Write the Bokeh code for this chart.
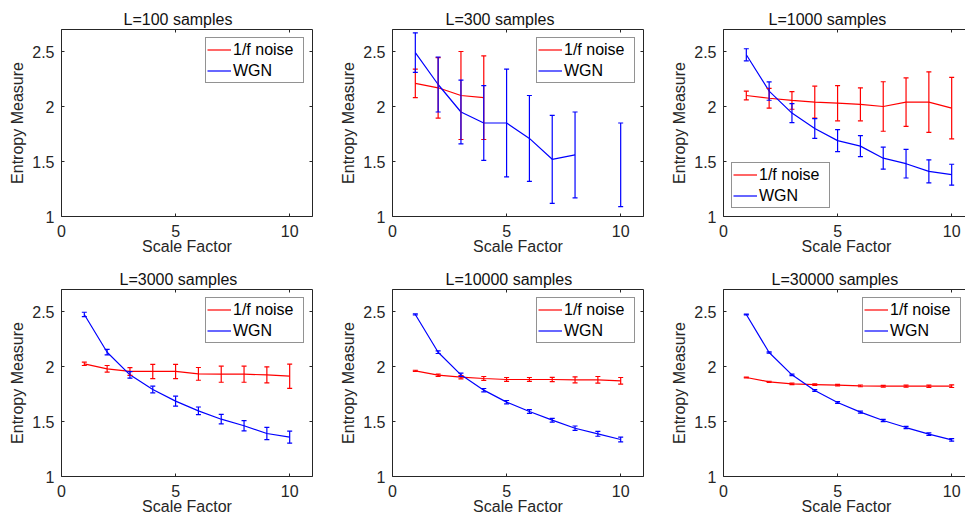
import math
from bokeh.plotting import figure
from bokeh.models import (ColumnDataSource, Whisker, TeeHead, Legend, LegendItem,
                          LinearAxis, FixedTicker, NumeralTickFormatter,
                          CustomJSTickFormatter, Range1d, Title)
from bokeh.layouts import column, row
from bokeh.embed import file_html
from bokeh.resources import INLINE

nan = float("nan")

# ---------------- data ----------------
scale_factor = [1, 2, 3, 4, 5, 6, 7, 8, 9, 10]
sample_lengths = ["100", "300", "1000", "3000", "10000", "30000"]
series_names = ["1/f noise", "WGN"]
x_ticks = [0, 5, 10]
y_ticks = [1, 1.5, 2, 2.5]

onef_mean_100 = [nan] * 10
onef_err_100 = [nan] * 10
wgn_mean_100 = [nan] * 10
wgn_err_100 = [nan] * 10

onef_mean_300 = [2.21, 2.17, 2.10, 2.08, nan, nan, nan, nan, nan, nan]
onef_err_300 = [0.13, 0.275, 0.40, 0.38, nan, nan, nan, nan, nan, nan]
wgn_mean_300 = [2.49, 2.20, 1.95, 1.85, 1.85, 1.71, 1.52, 1.56, nan, 1.47]
wgn_err_300 = [0.18, 0.25, 0.29, 0.34, 0.49, 0.39, 0.40, 0.39, nan, 0.38]

onef_mean_1000 = [2.10, 2.075, 2.055, 2.04, 2.03, 2.02, 2.00, 2.04, 2.04, 1.985]
onef_err_1000 = [0.04, 0.09, 0.08, 0.145, 0.16, 0.15, 0.225, 0.22, 0.275, 0.28]
wgn_mean_1000 = [2.47, 2.14, 1.94, 1.80, 1.69, 1.64, 1.53, 1.48, 1.41, 1.38]
wgn_err_1000 = [0.055, 0.083, 0.086, 0.09, 0.10, 0.095, 0.10, 0.13, 0.105, 0.095]

onef_mean_3000 = [2.024, 1.979, 1.955, 1.955, 1.955, 1.933, 1.93, 1.93, 1.924, 1.912]
onef_err_3000 = [0.015, 0.03, 0.035, 0.065, 0.065, 0.058, 0.073, 0.073, 0.073, 0.11]
wgn_mean_3000 = [2.473, 2.13, 1.924, 1.791, 1.685, 1.597, 1.521, 1.461, 1.391, 1.358]
wgn_err_3000 = [0.02, 0.025, 0.03, 0.03, 0.045, 0.035, 0.043, 0.047, 0.055, 0.055]

onef_mean_10000 = [1.961, 1.921, 1.903, 1.891, 1.882, 1.882, 1.882, 1.879, 1.879, 1.87]
onef_err_10000 = [0.005, 0.01, 0.015, 0.018, 0.018, 0.018, 0.02, 0.027, 0.03, 0.03]
wgn_mean_10000 = [2.473, 2.13, 1.924, 1.785, 1.676, 1.591, 1.512, 1.439, 1.388, 1.336]
wgn_err_10000 = [0.005, 0.012, 0.015, 0.015, 0.015, 0.017, 0.017, 0.02, 0.022, 0.022]

onef_mean_30000 = [1.90, 1.861, 1.842, 1.836, 1.83, 1.824, 1.821, 1.821, 1.821, 1.821]
onef_err_30000 = [0.004, 0.005, 0.006, 0.007, 0.007, 0.008, 0.008, 0.009, 0.01, 0.012]
wgn_mean_30000 = [2.473, 2.127, 1.924, 1.782, 1.673, 1.585, 1.509, 1.445, 1.385, 1.333]
wgn_err_30000 = [0.004, 0.006, 0.007, 0.008, 0.008, 0.009, 0.01, 0.01, 0.011, 0.012]

panels_data = [
    (onef_mean_100, onef_err_100, wgn_mean_100, wgn_err_100),
    (onef_mean_300, onef_err_300, wgn_mean_300, wgn_err_300),
    (onef_mean_1000, onef_err_1000, wgn_mean_1000, wgn_err_1000),
    (onef_mean_3000, onef_err_3000, wgn_mean_3000, wgn_err_3000),
    (onef_mean_10000, onef_err_10000, wgn_mean_10000, wgn_err_10000),
    (onef_mean_30000, onef_err_30000, wgn_mean_30000, wgn_err_30000),
]

# ---------------- style / layout ----------------
FONT = "Liberation Sans"
FS = "16px"
AX = "#262626"
RED = "#ff0000"
BLUE = "#0000ff"
FW, FH = 251, 187
FW_LAST = 246
title_x = [62, 53, 45, 58, 53, 48]
legend_loc = ["top_right", "top_right", "bottom_left", "top_right", "top_right", "top_right"]


def style_axis(ax, ticks, labels=True):
    ax.ticker = FixedTicker(ticks=ticks)
    ax.major_tick_in = 3
    ax.major_tick_out = 0
    ax.minor_tick_line_color = None
    ax.axis_line_color = AX
    ax.axis_line_width = 1
    ax.major_tick_line_color = AX
    ax.major_label_text_font = FONT
    ax.major_label_text_color = AX
    if labels:
        ax.formatter = NumeralTickFormatter(format="0.[0]")
        ax.major_label_text_font_size = FS
    else:
        ax.formatter = CustomJSTickFormatter(code="return ''")
        ax.major_label_text_font_size = "1px"
        ax.major_label_standoff = 0


def make_panel(i):
    r_idx, c_idx = divmod(i, 3)
    last_col = (c_idx == 2)
    fw = FW_LAST if last_col else FW
    x_end = 11 * fw / FW
    mb_l = 61 if c_idx == 0 else 53
    mb_r = 0 if last_col else 25
    mb_t = 29 if r_idx == 0 else 23
    mb_b = 50 if r_idx == 0 else 49
    t_standoff = 4 if r_idx == 0 else 3
    p = figure(frame_width=fw, frame_height=FH, title=None,
               min_border_left=mb_l, min_border_right=mb_r,
               min_border_top=mb_t, min_border_bottom=mb_b,
               x_range=Range1d(0, x_end), y_range=Range1d(1, 2.7),
               output_backend="svg", toolbar_location=None, tools="",
               outline_line_color=None, background_fill_color="white",
               border_fill_color="white")
    p.xgrid.visible = False
    p.ygrid.visible = False

    style_axis(p.xaxis[0], x_ticks)
    style_axis(p.yaxis[0], y_ticks)
    p.xaxis.axis_label = "Scale Factor"
    p.yaxis.axis_label = "Entropy Measure"
    for ax in (p.xaxis[0], p.yaxis[0]):
        ax.axis_label_text_font = FONT
        ax.axis_label_text_font_size = FS
        ax.axis_label_text_font_style = "normal"
        ax.axis_label_text_color = AX
    p.yaxis.major_label_standoff = 7
    p.yaxis.axis_label_standoff = 3
    p.xaxis.major_label_standoff = 8
    p.xaxis.axis_label_standoff = -2

    top = LinearAxis()
    style_axis(top, x_ticks, labels=False)
    p.add_layout(top, "above")
    if not last_col:
        right = LinearAxis()
        style_axis(right, y_ticks, labels=False)
        p.add_layout(right, "right")

    p.add_layout(Title(text="L=" + sample_lengths[i] + " samples", align="left",
                       offset=title_x[i], standoff=t_standoff, text_font=FONT,
                       text_font_size=FS, text_font_style="normal",
                       text_color="#111111"), "above")

    om, oe, wm, we = panels_data[i]
    renderers = []
    for mean, err, col in ((om, oe, RED), (wm, we, BLUE)):
        r = p.line(scale_factor, mean, line_color=col, line_width=1.2)
        renderers.append(r)
        ok = [not (math.isnan(m) or math.isnan(e)) for m, e in zip(mean, err)]
        xs = [x for x, k in zip(scale_factor, ok) if k]
        lo = [m - e for m, e, k in zip(mean, err, ok) if k]
        hi = [m + e for m, e, k in zip(mean, err, ok) if k]
        if xs:
            src = ColumnDataSource(dict(x=xs, lower=lo, upper=hi))
            w = Whisker(base="x", lower="lower", upper="upper", source=src,
                        dimension="height", line_color=col, line_width=1.2,
                        upper_head=TeeHead(size=5, line_color=col, line_width=1.2),
                        lower_head=TeeHead(size=5, line_color=col, line_width=1.2),
                        level="glyph")
            p.add_layout(w)

    legend = Legend(items=[LegendItem(label=series_names[0], renderers=[renderers[0]]),
                           LegendItem(label=series_names[1], renderers=[renderers[1]])],
                    location=legend_loc[i], margin=8, padding=1, spacing=0,
                    glyph_width=24, glyph_height=21, label_height=21, label_width=69,
                    label_standoff=2, label_text_font=FONT, label_text_font_size=FS,
                    label_text_color="#000000", border_line_color=AX, border_line_width=1,
                    background_fill_color="white", background_fill_alpha=1)
    p.add_layout(legend)
    return p


figs = [make_panel(i) for i in range(6)]
layout = column(row(*figs[:3]), row(*figs[3:]))
open("out.html", "w").write(file_html(layout, INLINE))
